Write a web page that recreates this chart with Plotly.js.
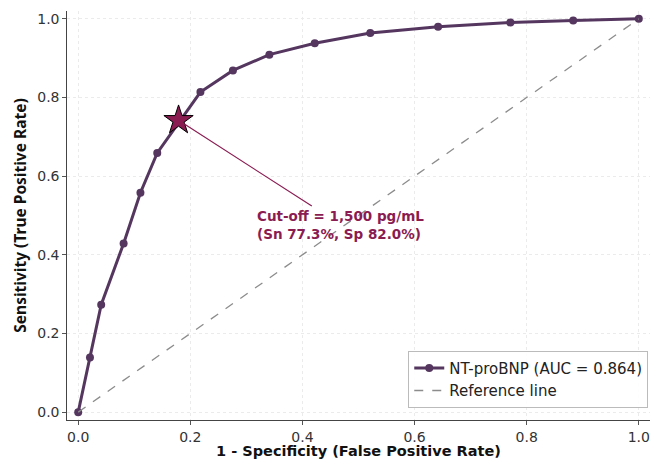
<!DOCTYPE html>
<html>
<head>
<meta charset="utf-8">
<script src="https://cdn.plot.ly/plotly-3.0.1.min.js"></script>
<style>html,body{margin:0;padding:0;background:#fff;}#chart{width:652px;height:459px;}</style>
</head>
<body>
<div id="chart"></div>
<script>
// ROC data
const fpr = [0.0, 0.021, 0.041, 0.081, 0.111, 0.141, 0.218, 0.276, 0.341, 0.422, 0.521, 0.642, 0.771, 0.883, 1.0];
const tpr = [0.0, 0.139, 0.273, 0.429, 0.558, 0.659, 0.814, 0.869, 0.909, 0.938, 0.964, 0.980, 0.991, 0.996, 1.0];
const refX = [0, 1];
const refY = [0, 1];
const cutoffX = [0.179];
const cutoffY = [0.742];
const cutoffText = "Cut-off = 1,500 pg/mL<br>(Sn 77.3%, Sp 82.0%)";
const labelPos = [0.468, 0.477];
const tickVals = [0, 0.2, 0.4, 0.6, 0.8, 1.0];
const tickText = ["0.0", "0.2", "0.4", "0.6", "0.8", "1.0"];

const lineColor = '#54365f';
const accent = '#8a1c52';
const font = 'DejaVu Sans, sans-serif';

const traces = [
  {x: fpr, y: tpr, type: 'scatter', mode: 'lines+markers', name: 'NT-proBNP (AUC = 0.864)',
   line: {color: lineColor, width: 3}, marker: {color: lineColor, size: 8}},
  {x: refX, y: refY, type: 'scatter', mode: 'lines', name: 'Reference line',
   line: {color: '#8c8c8c', width: 1.3, dash: 'dash'}},
  {x: cutoffX, y: cutoffY, type: 'scatter', mode: 'markers', showlegend: false,
   marker: {symbol: 'star', size: 22, color: accent, line: {color: '#000', width: 1}}}
];

const axisCommon = {
  range: [-0.02, 1.02], tickvals: tickVals, ticktext: tickText,
  showgrid: true, gridcolor: '#ebebeb', griddash: 'dot', gridwidth: 1,
  zeroline: false, showline: true, linecolor: '#444', linewidth: 1.2,
  ticks: 'outside', ticklen: 3.5, tickcolor: '#555', tickwidth: 1,
  tickfont: {family: font, size: 14, color: '#333'}
};

const layout = {
  width: 652, height: 459,
  margin: {l: 67, r: 2, t: 11, b: 39},
  paper_bgcolor: '#fff', plot_bgcolor: '#fff',
  font: {family: font, color: '#222'},
  xaxis: Object.assign({}, axisCommon, {
    title: {text: '<b>1 - Specificity (False Positive Rate)</b>', font: {family: font, size: 14.5, color: '#111'}, standoff: 3}
  }),
  yaxis: Object.assign({}, axisCommon, {
    title: {text: '<b>Sensitivity (True Positive Rate)</b>', font: {family: 'Noto Sans, sans-serif', size: 15.5, color: '#111'}, standoff: 6}
  }),
  legend: {x: 0.997, y: 0.03, xanchor: 'right', yanchor: 'bottom',
    bgcolor: 'rgba(255,255,255,0.9)', bordercolor: '#bbb', borderwidth: 1,
    font: {family: font, size: 15, color: '#222'}, tracegroupgap: 0, itemwidth: 30},
  annotations: [{
    x: cutoffX[0], y: cutoffY[0], xref: 'x', yref: 'y',
    ax: labelPos[0], ay: labelPos[1], axref: 'x', ayref: 'y',
    text: '<b>' + cutoffText + '</b>', align: 'left', showarrow: true,
    arrowhead: 0, arrowwidth: 1.2, arrowcolor: accent, standoff: 6,
    font: {family: font, size: 13.5, color: accent}
  }],
  showlegend: true
};

Plotly.newPlot('chart', traces, layout, {displayModeBar: false, staticPlot: true});
</script>
</body>
</html>
